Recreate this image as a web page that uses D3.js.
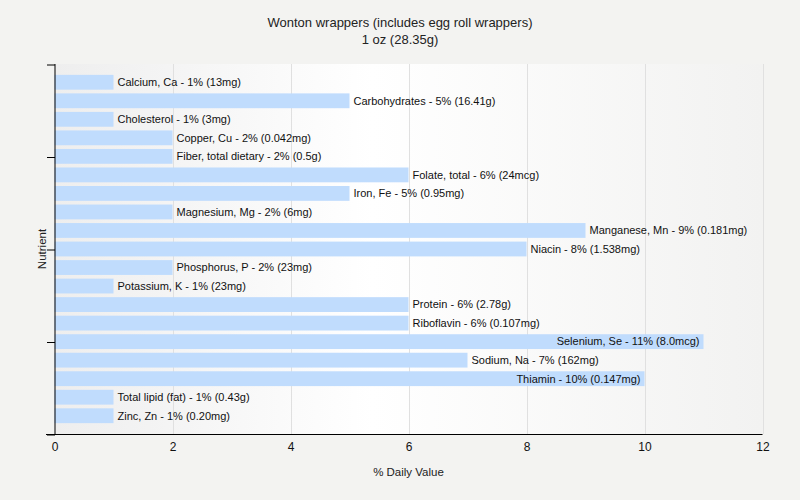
<!DOCTYPE html>
<html>
<head>
<meta charset="utf-8">
<script src="https://cdn.jsdelivr.net/npm/d3@7"></script>
<style>
  html, body { margin: 0; padding: 0; background: #f3f3f1; }
  svg { display: block; font-family: "Liberation Sans", Arial, sans-serif; }
</style>
</head>
<body>
<svg id="chart" width="800" height="500"></svg>
<script>
const titleLines = ["Wonton wrappers (includes egg roll wrappers)", "1 oz (28.35g)"];
const nutrients = ["Calcium, Ca", "Carbohydrates", "Cholesterol", "Copper, Cu", "Fiber, total dietary", "Folate, total", "Iron, Fe", "Magnesium, Mg", "Manganese, Mn", "Niacin", "Phosphorus, P", "Potassium, K", "Protein", "Riboflavin", "Selenium, Se", "Sodium, Na", "Thiamin", "Total lipid (fat)", "Zinc, Zn"];
const dailyValues = [1, 5, 1, 2, 2, 6, 5, 2, 9, 8, 2, 1, 6, 6, 11, 7, 10, 1, 1];
const amounts = ["13mg", "16.41g", "3mg", "0.042mg", "0.5g", "24mcg", "0.95mg", "6mg", "0.181mg", "1.538mg", "23mg", "23mg", "2.78g", "0.107mg", "8.0mcg", "162mg", "0.147mg", "0.43g", "0.20mg"];
const xTicks = [0, 2, 4, 6, 8, 10, 12];
const xTitle = "% Daily Value";
const yTitle = "Nutrient";

const svg = d3.select("#chart");
const pLeft = 54.5, pRight = 762.5, pTop = 64, pBottom = 434;

const x = d3.scaleLinear().domain([0, 12]).range([pLeft, pRight]);
const y = d3.scaleBand().domain(nutrients).range([pTop + 9, pBottom - 9]).paddingInner(0.2).paddingOuter(0.1);

// background gradient
const defs = svg.append("defs");
const grad = defs.append("linearGradient").attr("id", "bg").attr("x1", "0").attr("x2", "1").attr("y1", "0").attr("y2", "0");
grad.append("stop").attr("offset", "0%").attr("stop-color", "#eeeeee");
grad.append("stop").attr("offset", "45%").attr("stop-color", "#ffffff");
grad.append("stop").attr("offset", "100%").attr("stop-color", "#f2f2f1");

svg.append("rect").attr("x", pLeft).attr("y", pTop).attr("width", pRight - pLeft).attr("height", pBottom - pTop).attr("fill", "url(#bg)");

// grid
svg.append("g").selectAll("line").data(xTicks.slice(1)).join("line")
  .attr("x1", d => Math.round(x(d)) + 0.5).attr("x2", d => Math.round(x(d)) + 0.5)
  .attr("y1", pTop).attr("y2", pBottom)
  .attr("stroke", "#e0e0e0").attr("stroke-width", 1);

// bars
const data = nutrients.map((n, i) => ({ n, v: dailyValues[i], a: amounts[i] }));
svg.append("g").selectAll("rect").data(data).join("rect")
  .attr("x", x(0)).attr("y", d => y(d.n))
  .attr("width", d => x(d.v) - x(0)).attr("height", y.bandwidth())
  .attr("fill", "#c0dcfd");

// labels
const labels = svg.append("g").selectAll("text").data(data).join("text")
  .attr("y", d => y(d.n) + y.bandwidth() / 2)
  .attr("dy", "0.35em")
  .attr("font-size", 11)
  .attr("fill", "#111")
  .text(d => `${d.n} - ${d.v}% (${d.a})`);
labels.each(function(d) {
  const w = this.getComputedTextLength();
  const end = x(d.v);
  if (end + 4 + w > pRight) {
    d3.select(this).attr("x", end - 4).attr("text-anchor", "end");
  } else {
    d3.select(this).attr("x", end + 4).attr("text-anchor", "start");
  }
});

// x axis
const xAxis = d3.axisBottom(x).tickValues(xTicks).tickSize(0).tickPadding(8).tickFormat(d3.format("d"));
const gx = svg.append("g").attr("transform", `translate(0,${pBottom + 0.5})`).call(xAxis);
gx.select(".domain").remove();
gx.selectAll("text").attr("font-size", 12).attr("fill", "#111").attr("font-family", "Liberation Sans, Arial, sans-serif");
svg.append("line").attr("x1", 46).attr("x2", pRight).attr("y1", pBottom + 0.5).attr("y2", pBottom + 0.5).attr("stroke", "#000");

// y axis
const yTickScale = d3.scaleLinear().domain([0, 4]).range([pTop, pBottom]);
const gy = svg.append("g").attr("transform", `translate(${pLeft},0)`)
  .call(d3.axisLeft(yTickScale).ticks(4).tickSize(8).tickFormat(""));
gy.select(".domain").attr("d", `M0.5,${pTop}V${pBottom + 1}`).attr("stroke", "#000");
gy.selectAll(".tick line").attr("stroke", "#000").attr("transform", "translate(0.5,0.5)");

// titles
svg.append("g").selectAll("text").data(titleLines).join("text")
  .attr("x", 400).attr("y", (d, i) => 27 + i * 17)
  .attr("text-anchor", "middle").attr("font-size", 13).attr("fill", "#222")
  .text(d => d);

svg.append("text").attr("x", (pLeft + pRight) / 2).attr("y", 476)
  .attr("text-anchor", "middle").attr("font-size", 11.5).attr("fill", "#222").text(xTitle);

svg.append("text").attr("transform", `translate(46,${(pTop + pBottom) / 2}) rotate(-90)`)
  .attr("text-anchor", "middle").attr("font-size", 11.5).attr("fill", "#222").text(yTitle);
</script>
</body>
</html>
